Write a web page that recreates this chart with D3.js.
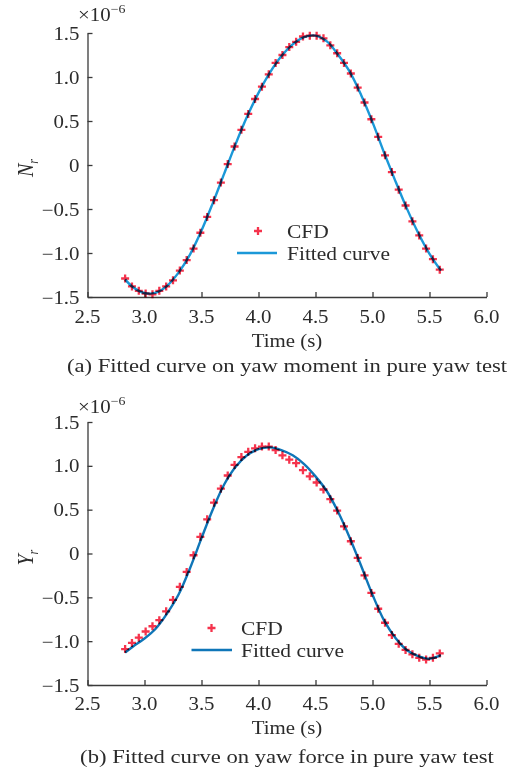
<!DOCTYPE html>
<html>
<head>
<meta charset="utf-8">
<script src="https://cdn.jsdelivr.net/npm/d3@7"></script>
<style>
  body { margin: 0; background: #fff; }
  svg { display: block; }
  text { font-family: "Liberation Serif", "Times New Roman", serif; fill: #2b2b2b; }
</style>
</head>
<body>
<svg id="chart" width="509" height="770"></svg>
<script>
// Sample times of the CFD runs (s)
const cfdTimes = [2.83, 2.89, 2.95, 3.01, 3.07, 3.13, 3.19, 3.25, 3.31, 3.37, 3.43, 3.49,
  3.55, 3.61, 3.67, 3.73, 3.79, 3.85, 3.91, 3.97, 4.03, 4.09, 4.15, 4.21, 4.27, 4.33,
  4.39, 4.45, 4.51, 4.57, 4.63, 4.69, 4.75, 4.81, 4.87, 4.93, 4.99, 5.05, 5.11, 5.17,
  5.23, 5.29, 5.35, 5.41, 5.47, 5.53, 5.59];

// Yaw moment N_r from CFD (x1e-6)
const cfdNr = [-1.29, -1.38, -1.43, -1.46, -1.47, -1.43, -1.38, -1.31, -1.20, -1.08, -0.95, -0.77,
  -0.59, -0.40, -0.20, 0.01, 0.21, 0.40, 0.58, 0.75, 0.89, 1.03, 1.16, 1.25, 1.34, 1.40,
  1.46, 1.47, 1.47, 1.44, 1.36, 1.27, 1.16, 1.04, 0.88, 0.71, 0.52, 0.32, 0.11, -0.08,
  -0.28, -0.46, -0.64, -0.80, -0.95, -1.07, -1.19];

// Yaw force Y_r from CFD (x1e-6)
const cfdYr = [-1.09, -1.02, -0.96, -0.89, -0.83, -0.76, -0.66, -0.53, -0.38, -0.21, -0.02, 0.19,
  0.39, 0.58, 0.74, 0.89, 1.01, 1.10, 1.16, 1.20, 1.22, 1.22, 1.18, 1.12, 1.07, 1.03,
  0.95, 0.88, 0.81, 0.73, 0.62, 0.49, 0.31, 0.14, -0.05, -0.25, -0.45, -0.63, -0.79, -0.93,
  -1.03, -1.10, -1.15, -1.19, -1.21, -1.19, -1.14];

// Fitted curves, sampled along time
const fitTimes = [2.83, 2.9, 3.0, 3.1, 3.2, 3.3, 3.4, 3.5, 3.6, 3.7, 3.8, 3.9, 4.0, 4.1, 4.2,
  4.3, 4.4, 4.5, 4.6, 4.7, 4.8, 4.9, 5.0, 5.1, 5.2, 5.3, 5.4, 5.5, 5.6];
const fitNr = [-1.30, -1.39, -1.455, -1.45, -1.37, -1.22, -1.015, -0.745, -0.43, -0.095, 0.24, 0.55,
  0.82, 1.05, 1.235, 1.37, 1.453, 1.47, 1.405, 1.25, 1.06, 0.795, 0.487, 0.145, -0.18,
  -0.49, -0.77, -1.01, -1.20];
const fitYr = [-1.13, -1.06, -0.97, -0.855, -0.68, -0.465, -0.165, 0.175, 0.505, 0.79, 0.99, 1.12,
  1.19, 1.21, 1.18, 1.12, 1.02, 0.88, 0.71, 0.47, 0.18, -0.14, -0.47, -0.76, -0.96,
  -1.10, -1.17, -1.20, -1.16];

// Axis ticks
const xTicks = [2.5, 3.0, 3.5, 4.0, 4.5, 5.0, 5.5, 6.0];
const yTicks = [-1.5, -1.0, -0.5, 0, 0.5, 1.0, 1.5];

const legendLabels = ["CFD", "Fitted curve"];
const xTitle = "Time (s)";
const captions = [
  "(a) Fitted curve on yaw moment in pure yaw test",
  "(b) Fitted curve on yaw force in pure yaw test"
];

// Serif glyphs are drawn slightly widened
const SX = 1.16;
const svg = d3.select("#chart");
const fmt = v => v === 0 ? "0" : (v < 0 ? "\u2212" : "") + Math.abs(v).toFixed(1);

function label(g, x, y, str, anchor, size, style) {
  return g.append("text")
    .attr("transform", `translate(${x},${y}) scale(${SX},1)`)
    .attr("text-anchor", anchor)
    .attr("font-size", size)
    .attr("font-style", style || "normal")
    .text(str);
}

function crossPath(s) { return `M${-s},0H${s}M0,${-s}V${s}`; }

const panels = [
  {
    cfd: cfdNr, fit: fitNr, sym: "N", caption: captions[0], lineColor: "#1b98d8",
    top: 33, bottom: 297, tickBase: 323, titleBase: 347, capBase: 372, expBase: 21,
    legMarker: [258, 231], legLine: [237, 277, 253], legText: 287, legBase: [238, 259.5]
  },
  {
    cfd: cfdYr, fit: fitYr, sym: "Y", caption: captions[1], lineColor: "#0f76b8",
    top: 422, bottom: 685, tickBase: 710, titleBase: 734, capBase: 763, expBase: 413,
    legMarker: [211.5, 628], legLine: [191.5, 232, 650], legText: 241, legBase: [635, 657]
  }
];

const left = 87.5, right = 486.5;

panels.forEach(p => {
  const g = svg.append("g");
  const x = d3.scaleLinear().domain([2.5, 6.0]).range([left, right]);
  const y = d3.scaleLinear().domain([-1.5, 1.5]).range([p.bottom, p.top]);

  // axes with inward ticks
  const xAxis = g.append("g").attr("transform", `translate(0,${p.bottom})`)
    .call(d3.axisBottom(x).tickValues(xTicks).tickSizeInner(-5).tickSizeOuter(0).tickFormat(""));
  const yAxis = g.append("g").attr("transform", `translate(${left},0)`)
    .call(d3.axisLeft(y).tickValues(yTicks).tickSizeInner(-5).tickSizeOuter(0).tickFormat(""));
  [xAxis, yAxis].forEach(a => {
    a.selectAll("path, line").attr("stroke", "#3a3a3a").attr("stroke-width", 1.3);
    a.selectAll("text").remove();
  });

  xTicks.forEach(v => label(g, x(v), p.tickBase, v.toFixed(1), "middle", 18));
  yTicks.forEach(v => label(g, left - 8, y(v) + 6.5, fmt(v), "end", 18));

  // exponent marker
  const ex = label(g, 78, p.expBase, "\u00d710", "start", 18);
  ex.append("tspan").attr("dy", -8).attr("font-size", 12).text("\u22126");

  // y title, rotated, with subscript
  const yt = g.append("text")
    .attr("transform", `translate(33,${(p.top + p.bottom) / 2 + 12}) rotate(-90) scale(1,${SX})`)
    .attr("font-size", 20).attr("font-style", "italic").attr("text-anchor", "start");
  yt.append("tspan").text(p.sym);
  yt.append("tspan").attr("font-size", 12).attr("dy", 4).text("r");

  label(g, (left + right) / 2, p.titleBase, xTitle, "middle", 18);
  label(g, (left + right) / 2, p.capBase, p.caption, "middle", 19.5);

  // fitted curve
  const line = d3.line().x(d => x(d[0])).y(d => y(d[1])).curve(d3.curveCatmullRom.alpha(0.5));
  g.append("path")
    .datum(fitTimes.map((t, i) => [t, p.fit[i]]))
    .attr("d", line).attr("fill", "none")
    .attr("stroke", p.lineColor).attr("stroke-width", 2.4);

  // CFD markers
  g.append("g").style("mix-blend-mode", "multiply")
    .selectAll("path").data(cfdTimes.map((t, i) => [t, p.cfd[i]])).join("path")
    .attr("transform", d => `translate(${x(d[0])},${y(d[1])})`)
    .attr("d", crossPath(4)).attr("stroke", "#f5334c").attr("stroke-width", 2.3);

  // legend
  g.append("path").attr("transform", `translate(${p.legMarker[0]},${p.legMarker[1]})`)
    .attr("d", crossPath(4)).attr("stroke", "#f5334c").attr("stroke-width", 2.3);
  g.append("line")
    .attr("x1", p.legLine[0]).attr("x2", p.legLine[1])
    .attr("y1", p.legLine[2]).attr("y2", p.legLine[2])
    .attr("stroke", p.lineColor).attr("stroke-width", 2.6);
  label(g, p.legText, p.legBase[0], legendLabels[0], "start", 18.5);
  label(g, p.legText, p.legBase[1], legendLabels[1], "start", 18.5);
});
</script>
</body>
</html>
